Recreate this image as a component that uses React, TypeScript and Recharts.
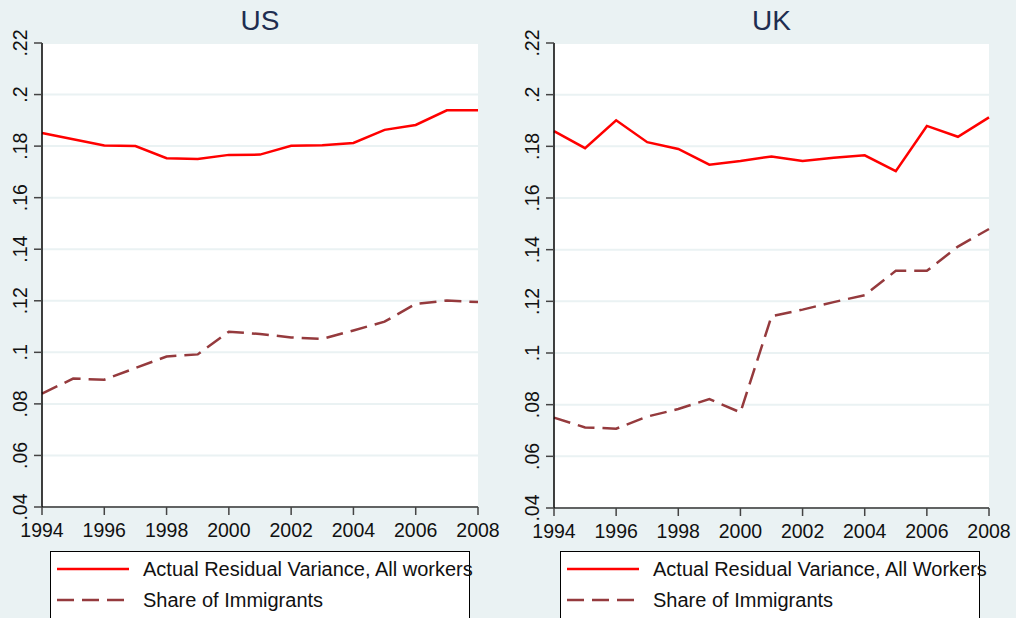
import { LineChart, Line, XAxis, YAxis, CartesianGrid, Legend } from 'recharts';

const years = [1994, 1995, 1996, 1997, 1998, 1999, 2000, 2001, 2002, 2003, 2004, 2005, 2006, 2007, 2008];

const usResidual = [0.1851, 0.1827, 0.1802, 0.18, 0.1753, 0.175, 0.1766, 0.1767, 0.1801, 0.1803, 0.1812, 0.1863, 0.1882, 0.1939, 0.1939];
const usImmigrants = [0.084, 0.0898, 0.0894, 0.0939, 0.0984, 0.0992, 0.108, 0.1071, 0.1058, 0.1052, 0.1085, 0.1119, 0.1188, 0.1201, 0.1195];

const ukResidual = [0.1859, 0.1793, 0.1901, 0.1816, 0.179, 0.1729, 0.1743, 0.1761, 0.1743, 0.1756, 0.1765, 0.1704, 0.1879, 0.1837, 0.1912];
const ukImmigrants = [0.075, 0.0712, 0.0707, 0.0754, 0.0783, 0.0822, 0.077, 0.1142, 0.1168, 0.1197, 0.1224, 0.1318, 0.1318, 0.1412, 0.148];

const yTicks = [0.04, 0.06, 0.08, 0.1, 0.12, 0.14, 0.16, 0.18, 0.2, 0.22];
const xTicks = [1994, 1996, 1998, 2000, 2002, 2004, 2006, 2008];

const FONT = '"Liberation Sans", Arial, sans-serif';
const BG = '#EAF2F3';
const RED = '#FF0000';
const MAROON = '#953A3D';

const fmtY = (v: number) => String(parseFloat(v.toFixed(2))).replace(/^0/, '');

const YTick = (props: any) => {
  const { x, y, payload } = props;
  return (
    <text x={x - 5} y={y} transform={`rotate(-90, ${x - 5}, ${y})`} textAnchor="middle"
      fontSize={19.5} fontFamily={FONT} fill="#111">
      {fmtY(payload.value)}
    </text>
  );
};

const XTick = (props: any) => {
  const { x, y, payload } = props;
  return (
    <text x={x} y={y + 20} textAnchor="middle" fontSize={19.5} fontFamily={FONT} fill="#111">
      {payload.value}
    </text>
  );
};

type PanelProps = {
  title: string;
  residual: number[];
  immigrants: number[];
  residualLabel: string;
  left: number;
  yWidth: number;
  marginRight: number;
  marginBottom: number;
  legendLeft: number;
};

const Panel = ({ title, residual, immigrants, residualLabel, left, yWidth, marginRight, marginBottom, legendLeft }: PanelProps) => {
  const data = years.map((year, i) => ({ year, residual: residual[i], immigrants: immigrants[i] }));
  const plotCenter = yWidth + (508 - yWidth - marginRight) / 2;

  const renderLegend = () => (
    <div style={{ width: 420, height: 80, background: '#fff', border: '1px solid #000', boxSizing: 'border-box', fontFamily: FONT, fontSize: 20, color: '#111' }}>
      {[{ label: residualLabel, color: RED, dash: undefined }, { label: 'Share of Immigrants', color: MAROON, dash: '17 8' }].map((item, i) => (
        <div key={i} style={{ position: 'absolute', top: i === 0 ? 6 : 37, left: 0, height: 24, display: 'flex', alignItems: 'center' }}>
          <svg width={80} height={24} style={{ marginLeft: 6 }}>
            <line x1={1} y1={12} x2={73} y2={12} stroke={item.color} strokeWidth={2.5} strokeDasharray={item.dash} />
          </svg>
          <span style={{ marginLeft: 7, whiteSpace: 'nowrap' }}>{item.label}</span>
        </div>
      ))}
    </div>
  );

  return (
    <div style={{ position: 'absolute', left, top: 0, width: 508, height: 618 }}>
      <div style={{ position: 'absolute', left: 0, width: plotCenter * 2, top: 5, textAlign: 'center', fontFamily: FONT, fontSize: 28, color: '#1E2D50' }}>
        {title}
      </div>
      <LineChart width={508} height={618} data={data} margin={{ top: 43, right: marginRight, bottom: marginBottom, left: 0 }}>
        <CartesianGrid vertical={false} stroke={BG} strokeWidth={2} fill="#ffffff" fillOpacity={1} />
        <XAxis dataKey="year" type="number" domain={[1994, 2008]} ticks={xTicks} height={30}
          axisLine={{ stroke: '#333', strokeWidth: 1.5 }} tickLine={{ stroke: '#444', strokeWidth: 1.5 }} tickSize={8} tick={<XTick />} />
        <YAxis type="number" domain={[0.04, 0.22]} ticks={yTicks} width={yWidth} interval={0}
          axisLine={{ stroke: '#000', strokeWidth: 1.5 }} tickLine={{ stroke: '#444', strokeWidth: 1.5 }} tickSize={8} tick={<YTick />} />
        <Legend layout="vertical" align="center" verticalAlign="middle" content={renderLegend}
          wrapperStyle={{ top: 551, left: legendLeft, width: 420, height: 80 }} />
        <Line dataKey="residual" stroke={RED} strokeWidth={2.5} dot={false} isAnimationActive={false} />
        <Line dataKey="immigrants" stroke={MAROON} strokeWidth={2.5} strokeDasharray="17 8" dot={false} isAnimationActive={false} />
      </LineChart>
    </div>
  );
};

const App = () => {
  return (
    <div style={{ position: 'absolute', left: 0, top: 0, width: 1016, height: 618, background: BG, overflow: 'hidden' }}>
      <Panel title="US" residual={usResidual} immigrants={usImmigrants} residualLabel="Actual Residual Variance, All workers"
        left={0} yWidth={42} marginRight={30} marginBottom={81} legendLeft={50} />
      <Panel title="UK" residual={ukResidual} immigrants={ukImmigrants} residualLabel="Actual Residual Variance, All Workers"
        left={508} yWidth={46} marginRight={27} marginBottom={80} legendLeft={52} />
    </div>
  );
};

export default App;
